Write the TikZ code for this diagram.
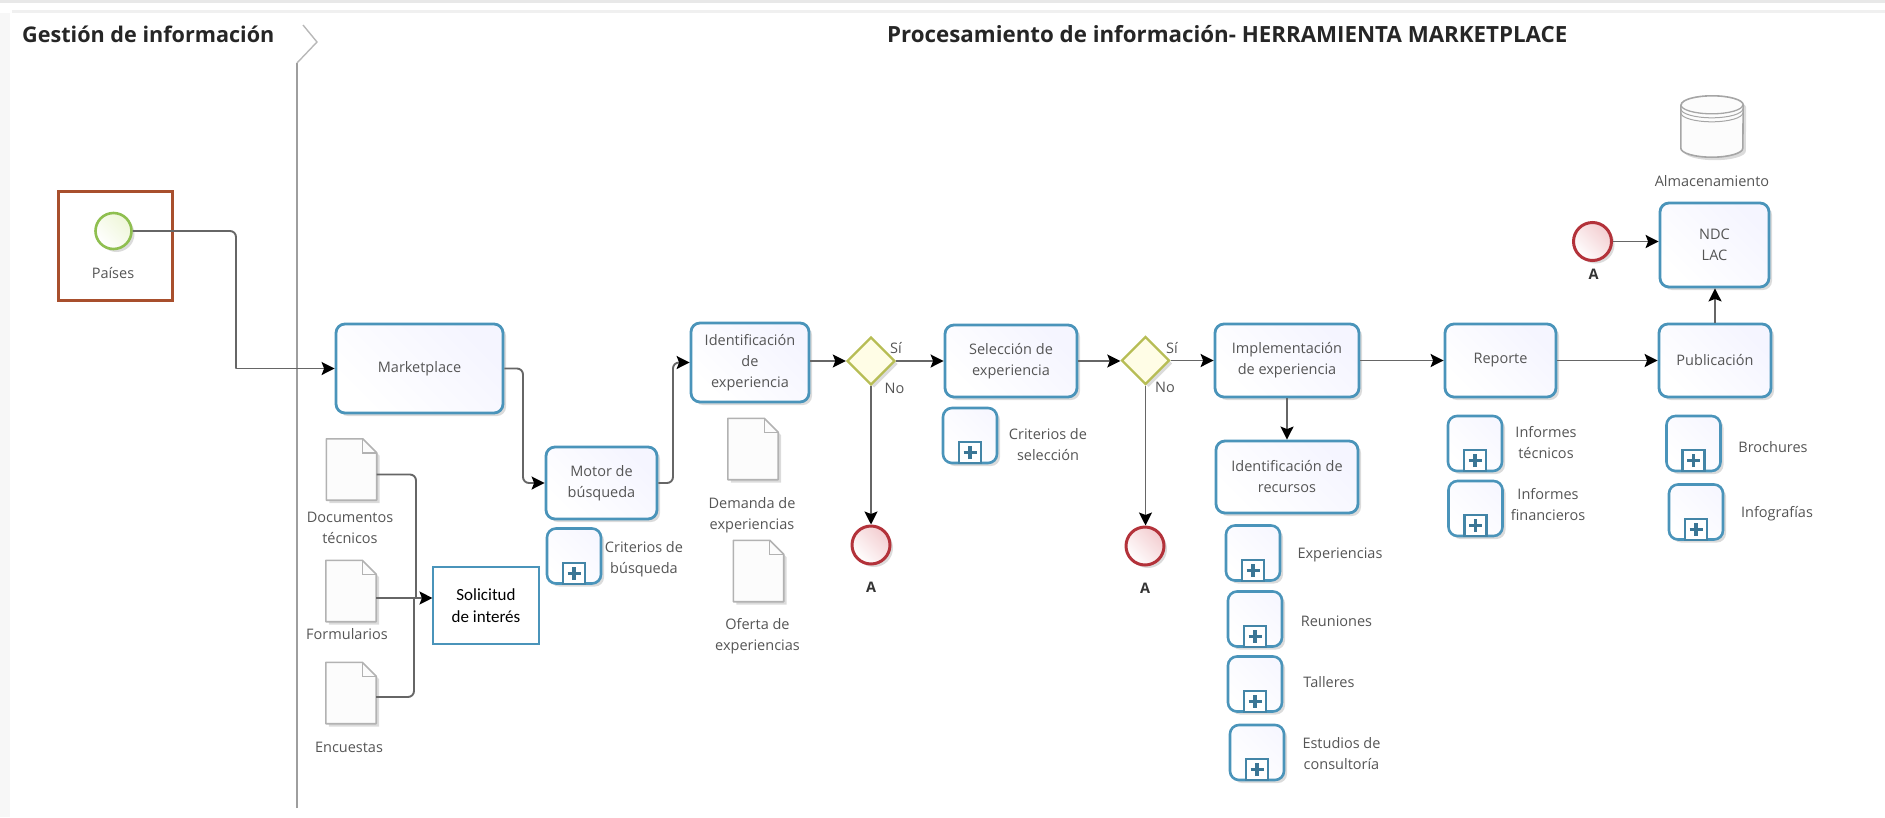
\documentclass[tikz,border=0pt]{standalone}
\usepackage{fontspec}
\setmainfont{Open Sans}
\newfontfamily\calfont{Carlito}
\usetikzlibrary{arrows.meta,shapes.geometric,shadows,calc}
\definecolor{taskblue}{HTML}{4A94BA}
\definecolor{txtgray}{HTML}{555555}
\definecolor{flowgray}{HTML}{666666}
\definecolor{redbox}{HTML}{A84F2D}
\definecolor{startline}{HTML}{8FBF50}
\definecolor{startfill}{HTML}{EEF6D8}
\definecolor{gateline}{HTML}{B7BD55}
\definecolor{gatefill}{HTML}{FFFDE6}
\definecolor{endline}{HTML}{B3323A}
\definecolor{endfill}{HTML}{F3CDD0}
\tikzset{
  softshadow/.style={drop shadow={shadow xshift=3pt,shadow yshift=-3pt,opacity=.2,fill=black!70}},
  task/.style={draw=taskblue,line width=2.8pt,rounded corners=9pt,left color=white,right color=blue!4,shading angle=135,softshadow,
     text=txtgray,align=center,font=\fontsize{14.5}{21}\selectfont,inner sep=0pt},
  subbox/.style={draw=taskblue,line width=2.6pt,rounded corners=9pt,left color=white,right color=blue!3,shading angle=135,softshadow,
     minimum width=54pt,minimum height=55pt,inner sep=0pt},
  plusbox/.style={draw=taskblue!90!black,line width=2.2pt,fill=white,minimum width=22pt,minimum height=21pt,inner sep=0pt},
  plussign/.style={draw=taskblue!80!black,line width=3.2pt},
  lbl/.style={text=txtgray,align=center,font=\fontsize{14.5}{21}\selectfont,inner sep=0pt},
  alabel/.style={text=black!80,font=\fontsize{14.5}{17}\selectfont\bfseries,inner sep=0pt},
  headleft/.style={text=black!85,font=\fontsize{21.6}{26}\selectfont\bfseries,inner sep=0pt},
  headright/.style={text=black!85,font=\fontsize{22.3}{26}\selectfont\bfseries,inner sep=0pt},
  plainline/.style={draw=flowgray,line width=1.9pt,rounded corners=6pt},
  flow/.style={plainline,-{Stealth[black,length=13pt,width=13pt,inset=2.5pt]}},
  endev/.style={circle,draw=endline,line width=3pt,left color=white,right color=endfill,shading angle=135,softshadow,minimum size=38pt,inner sep=0pt},
  startev/.style={circle,draw=startline,line width=2.6pt,left color=white,right color=startfill,shading angle=135,softshadow,minimum size=36pt,inner sep=0pt},
  gate/.style={diamond,aspect=1,draw=gateline,line width=2.4pt,fill=gatefill,softshadow,minimum size=48pt,inner sep=0pt},
  docshape/.style={draw=black!30,line width=1.6pt,fill=black!1,softshadow,line join=round},
  docnode/.style={minimum width=50pt,minimum height=61pt,inner sep=0pt},
}
\newcommand\subproc[3]{%
  \node[subbox] (#1) at (#2,#3) {};
  \node[plusbox,anchor=south] (#1p) at (#1.south) {};
  \draw[plussign] ([xshift=-6.5pt]#1p.center) -- ([xshift=6.5pt]#1p.center);
  \draw[plussign] ([yshift=-6.5pt]#1p.center) -- ([yshift=6.5pt]#1p.center);
}
\newcommand\docu[3]{%
  \node[docnode] (#1) at (#2,#3) {};
  \draw[docshape] (#1.south west) -- (#1.north west) -- ([xshift=-14pt]#1.north east) -- ([yshift=-14pt]#1.north east) -- (#1.south east) -- cycle;
  \draw[draw=black!30,line width=1.4pt] ([xshift=-14pt]#1.north east) -- ([xshift=-14pt,yshift=-14pt]#1.north east) -- ([yshift=-14pt]#1.north east);
}
\begin{document}
\begin{tikzpicture}[x=1pt,y=-1pt]
\useasboundingbox (0,0) rectangle (1885,817);
% frame bands
\fill[black!9] (0,0) rectangle (1885,3);
\fill[black!6] (12,10) rectangle (1885,13);
\fill[black!3] (0,13) rectangle (10,817);
% lane
\node[headleft,anchor=west] (t1) at (22,34) {Gestión de información};
\node[headright,anchor=west] (t2) at (887,34) {Procesamiento de información- HERRAMIENTA MARKETPLACE};
\draw[black!38,line width=2pt] (297,808) -- (297,63);
\draw[black!28,line width=1.4pt] (297,63) -- (317,42) -- (303,25);
% start
\node[draw=redbox,line width=3.6pt,minimum width=114pt,minimum height=109pt,inner sep=0pt] (redframe) at (115.5,246) {};
\node[startev] (start) at (113.5,231) {};
\node[lbl] (lpais) at (113,273) {Países};
% tasks
\node[task,minimum width=167pt,minimum height=89pt] (market) at (419.5,368.5) {Marketplace};
\node[task,minimum width=111pt,minimum height=72pt] (motor) at (601.5,483) {Motor de\\búsqueda};
\node[task,minimum width=118pt,minimum height=79pt] (ident) at (750,362.5) {Identificación\\de\\experiencia};
\node[task,minimum width=132pt,minimum height=72pt] (selec) at (1011,361) {Selección de\\experiencia};
\node[task,minimum width=144pt,minimum height=73pt] (impl) at (1287,360.5) {Implementación\\de experiencia};
\node[task,minimum width=142pt,minimum height=72pt] (recur) at (1287,477) {Identificación de\\recursos};
\node[task,minimum width=111pt,minimum height=73pt] (report) at (1500.5,360.5) {Reporte};
\node[task,minimum width=112pt,minimum height=73pt] (publi) at (1715,360.5) {Publicación};
\node[task,minimum width=109pt,minimum height=84pt] (ndc) at (1714.5,245) {NDC\\LAC};
% gateways and events
\node[gate] (g1) at (871,361) {};
\node[gate] (g2) at (1145.5,360.5) {};
\node[endev] (e1) at (871,545) {};
\node[endev] (e2) at (1145,546) {};
\node[endev] (e3) at (1592.5,241.5) {};
\node[alabel] (a1) at (871,587) {A};
\node[alabel] (a2) at (1145,588) {A};
\node[alabel] (a3) at (1593.5,274) {A};
\node[lbl] (si1) at (896,348) {Sí};
\node[lbl] (no1) at (894.5,388) {No};
\node[lbl] (si2) at (1172,348) {Sí};
\node[lbl] (no2) at (1165,387) {No};
% documents
\docu{d1}{351.5}{469.5}
\docu{d2}{351}{591}
\docu{d3}{351}{693}
\docu{d4}{753}{449}
\docu{d5}{758.5}{571}
\node[lbl] (ld1) at (350,527.5) {Documentos\\técnicos};
\node[lbl] (ld2) at (347,634) {Formularios};
\node[lbl] (ld3) at (349,747) {Encuestas};
\node[lbl] (ld4) at (752,515) {Demanda de\\experiencias};
\node[lbl] (ld5) at (757.5,636) {Oferta de\\experiencias};
% solicitud
\node[draw=taskblue,line width=1.1pt,fill=white,minimum width=106pt,minimum height=77pt,inner sep=0pt,align=center,text=black,font=\calfont\fontsize{17}{21.5}\selectfont] (sol) at (486,605.5) {Solicitud\\de interés};
% subprocesses
\subproc{s1}{574}{556}
\subproc{s2}{970}{435.5}
\subproc{s3}{1253}{553}
\subproc{s4}{1255}{619}
\subproc{s5}{1255}{684}
\subproc{s6}{1257}{752.5}
\subproc{s7}{1475}{443.5}
\subproc{s8}{1475.5}{508.5}
\subproc{s9}{1693.5}{443.5}
\subproc{s10}{1696}{512}
\node[lbl] (ls1) at (644,559) {Criterios de\\búsqueda};
\node[lbl] (ls2) at (1048,444.5) {Criterios de\\selección};
\node[lbl] (ls3) at (1340,555) {Experiencias};
\node[lbl] (ls4) at (1336.5,621) {Reuniones};
\node[lbl] (ls5) at (1329,682) {Talleres};
\node[lbl] (ls6) at (1341.5,753.5) {Estudios de\\consultoría};
\node[lbl] (ls7) at (1546,442.5) {Informes\\técnicos};
\node[lbl] (ls8) at (1548,504.5) {Informes\\financieros};
\node[lbl] (ls9) at (1773,447) {Brochures};
\node[lbl] (ls10) at (1777,514) {Infografías};
% data store
\node[minimum width=62pt,minimum height=61pt,inner sep=0pt] (db) at (1712,126.5) {};
\draw[docshape,draw=black!35] ($(db.north west)+(0,9)$) -- ($(db.south west)+(0,-9)$) arc[start angle=180,end angle=360,x radius=31pt,y radius=9pt] -- ($(db.north east)+(0,9)$) arc[start angle=0,end angle=180,x radius=31pt,y radius=9pt] -- cycle;
\draw[black!35,line width=1.3pt] ($(db.north west)+(0,9)$) arc[start angle=180,end angle=360,x radius=31pt,y radius=9pt];
\draw[black!35,line width=1pt] ($(db.north west)+(0,13)$) arc[start angle=180,end angle=360,x radius=31pt,y radius=9pt];
\draw[black!35,line width=1pt] ($(db.north west)+(0,17)$) arc[start angle=180,end angle=360,x radius=31pt,y radius=9pt];
\node[lbl] (ldb) at (1712,181) {Almacenamiento};
% connectors
\coordinate (j1) at (236,368.5);
\coordinate (c1) at (523,425);
\coordinate (c2) at (673,425);
\coordinate (merge) at (416,598);
\coordinate (merge2) at (414,598);
\draw[plainline] (start.east) -| (j1);
\draw[flow] (j1) -- (market.west);
\draw[flow] (market.east) -| (c1) |- (motor.west);
\draw[flow] (motor.east) -| (c2) |- (ident.west);
\draw[plainline] ([yshift=-5pt]d1.east) -| (merge);
\draw[plainline] ([yshift=-4pt]d3.east) -| (merge2);
\draw[flow] (d2.east|-merge) -- (sol.west|-merge);
\draw[flow] (ident.east|-g1.west) -- (g1.west);
\draw[flow] (g1.east) -- (selec.west);
\draw[flow] (g1.south) -- (e1.north);
\draw[flow] (selec.east) -- (selec.east-|g2.west);
\draw[flow] (g2.east) -- (g2.east-|impl.west);
\draw[flow] (g2.south) -- (e2.north-|g2.south);
\draw[flow] (impl.south) -- (recur.north);
\draw[flow] (impl.east) -- (report.west);
\draw[flow] (report.east) -- (publi.west);
\draw[flow] (publi.north) -- (publi.north|-ndc.south);
\draw[flow] (e3.east) -- (e3.east-|ndc.west);
\end{tikzpicture}
\end{document}
